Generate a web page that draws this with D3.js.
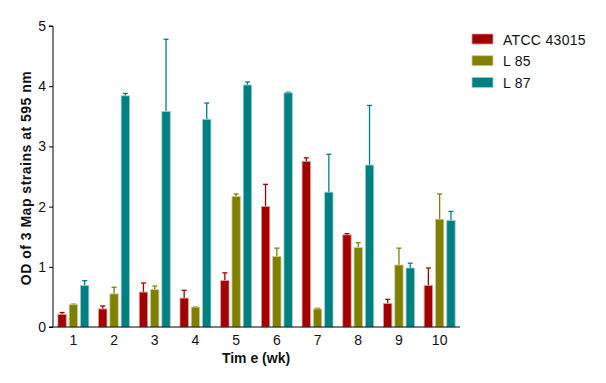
<!DOCTYPE html>
<html>
<head>
<meta charset="utf-8">
<script src="https://cdn.jsdelivr.net/npm/d3@7"></script>
<style>
  body { margin: 0; background: #fff; }
  text { font-family: "Liberation Sans", Arial, sans-serif; }
</style>
</head>
<body>
<svg id="chart" width="606" height="383"></svg>
<script>
// Data
var weeks = [1, 2, 3, 4, 5, 6, 7, 8, 9, 10]
var seriesNames = ['ATCC 43015', 'L 85', 'L 87']
var atccMean = [0.21, 0.30, 0.58, 0.48, 0.77, 2.00, 2.75, 1.53, 0.39, 0.69]
var atccErr  = [0.03, 0.05, 0.15, 0.13, 0.13, 0.37, 0.06, 0.02, 0.07, 0.29]
var l85Mean  = [0.37, 0.55, 0.62, 0.33, 2.17, 1.17, 0.30, 1.32, 1.03, 1.79]
var l85Err   = [0.01, 0.11, 0.06, 0.00, 0.04, 0.14, 0.01, 0.08, 0.28, 0.42]
var l87Mean  = [0.69, 3.84, 3.58, 3.45, 4.02, 3.89, 2.24, 2.69, 0.98, 1.77]
var l87Err   = [0.08, 0.04, 1.20, 0.27, 0.05, 0.01, 0.63, 0.99, 0.08, 0.15]
var yTicks = [0, 1, 2, 3, 4, 5]
var colors = ['#a30000', '#808000', '#008080']

var svg = d3.select('#chart')

// plot edges (window.top is reserved, so no plain "top")
var plotLeft = 53, plotRight = 460, plotTop = 26, plotBottom = 327

var means = [atccMean, l85Mean, l87Mean],
    errs = [atccErr, l85Err, l87Err]

var xScale = d3.scaleBand().domain(weeks).range([plotLeft, plotRight]).paddingInner(0.24).paddingOuter(0.12),
    subScale = d3.scaleBand().domain(seriesNames).range([0, xScale.bandwidth()]).paddingInner(0.26).paddingOuter(0),
    yScale = d3.scaleLinear().domain([0, 5]).range([plotBottom, plotTop])

// bars + error bars
seriesNames.forEach((name, s) => {
    let rows = weeks.map((w, i) => ({ w: w, v: means[s][i], e: errs[s][i] }))
    let g = svg.append('g').attr('class', 'series')
    let cx = d => xScale(d.w) + subScale(name) + subScale.bandwidth() / 2

    g.selectAll('line.err')
        .data(rows)
        .enter()
        .append('line')
        .attr('class', 'err')
        .attr('x1', cx)
        .attr('x2', cx)
        .attr('y1', d => yScale(d.v))
        .attr('y2', d => yScale(d.v + d.e))
        .attr('stroke', colors[s])
        .attr('stroke-width', 1.3)

    g.selectAll('line.cap')
        .data(rows)
        .enter()
        .append('line')
        .attr('class', 'cap')
        .attr('x1', d => cx(d) - 2.5)
        .attr('x2', d => cx(d) + 2.5)
        .attr('y1', d => yScale(d.v + d.e))
        .attr('y2', d => yScale(d.v + d.e))
        .attr('stroke', colors[s])
        .attr('stroke-width', 1.3)

    g.selectAll('rect')
        .data(rows)
        .enter()
        .append('rect')
        .attr('x', d => xScale(d.w) + subScale(name))
        .attr('width', subScale.bandwidth())
        .attr('y', d => yScale(d.v))
        .attr('height', d => yScale(0) - yScale(d.v))
        .attr('fill', colors[s])
        .attr('stroke', d3.interpolateRgb(colors[s], '#fff')(0.6))
        .attr('stroke-width', 0.8)
})

// y axis
var yAxis = svg.append('g')
    .attr('transform', `translate(${plotLeft},0)`)
    .call(d3.axisLeft(yScale).tickValues(yTicks).tickSize(4).tickPadding(3).tickFormat(d3.format('d')))
yAxis.select('.domain').attr('stroke', '#000').attr('d', `M-4,${plotTop}H0V${plotBottom}`)
yAxis.selectAll('text').attr('font-size', 14).attr('fill', '#111').style('font-family', '"Liberation Sans", Arial, sans-serif')

// x axis
var xAxis = svg.append('g')
    .attr('transform', `translate(0,${plotBottom})`)
    .call(d3.axisBottom(xScale).tickSize(0).tickPadding(8))
xAxis.select('.domain').attr('stroke', '#000').attr('d', `M${plotLeft - 4},0H${plotRight}`)
xAxis.selectAll('text').attr('font-size', 14).attr('fill', '#111').style('font-family', '"Liberation Sans", Arial, sans-serif')

// titles
svg.append('text')
    .attr('x', 256)
    .attr('y', 363)
    .attr('text-anchor', 'middle')
    .attr('font-size', 14)
    .attr('font-weight', 'bold')
    .attr('fill', '#111')
    .text('Tim e (wk)')

svg.append('text')
    .attr('transform', `translate(31,178) rotate(-90)`)
    .attr('text-anchor', 'middle')
    .attr('font-size', 14)
    .attr('font-weight', 'bold')
    .attr('letter-spacing', 0.5)
    .attr('fill', '#111')
    .text('OD of 3 Map strains at 595 nm')

// legend
var legend = svg.append('g').attr('transform', 'translate(472,34)')
seriesNames.forEach((name, s) => {
    let row = legend.append('g').attr('transform', `translate(0,${s * 21.7})`)
    row.append('rect')
        .attr('width', 21)
        .attr('height', 10)
        .attr('fill', colors[s])
        .attr('stroke', d3.interpolateRgb(colors[s], '#fff')(0.6))
        .attr('stroke-width', 0.8)
    row.append('text')
        .attr('x', 31)
        .attr('y', 10.5)
        .attr('font-size', 14)
        .attr('letter-spacing', 0.3)
        .attr('fill', '#111')
        .text(name)
})
</script>
</body>
</html>
